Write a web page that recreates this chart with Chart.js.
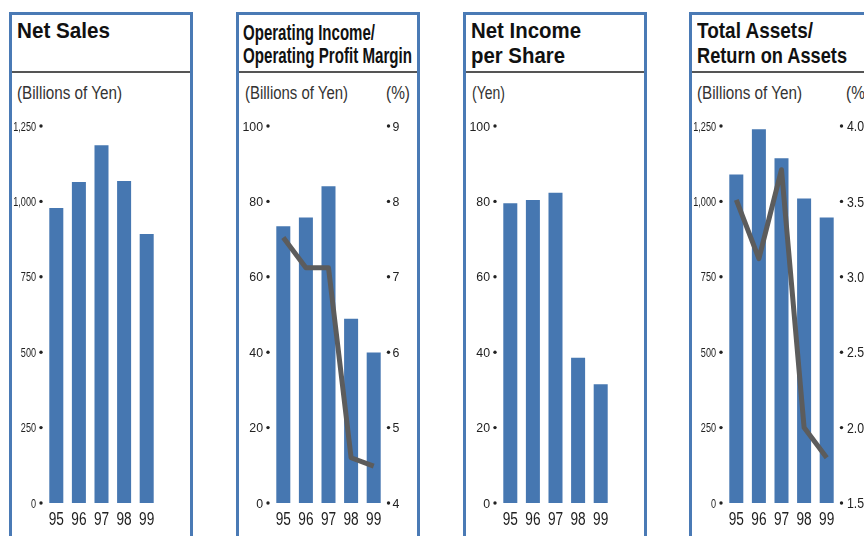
<!DOCTYPE html>
<html>
<head>
<meta charset="utf-8">
<script src="https://cdn.jsdelivr.net/npm/chart.js@4.4.0/dist/chart.umd.min.js"></script>
<style>
body { margin:0; width:864px; height:536px; overflow:hidden; background:#fff; position:relative;
       font-family:"Liberation Sans", Arial, sans-serif; color:#1a1a1a; }
.panel { position:absolute; top:12px; width:184px; height:600px; box-sizing:border-box;
         border:3px solid #4a7ab5; border-bottom:none; }
.rule { position:absolute; left:0; right:0; top:56px; border-top:2px solid #555; }
.t { position:absolute; white-space:nowrap; font-weight:bold; font-size:22px; line-height:25px;
     transform-origin:0 0; color:#111; }
.u { position:absolute; white-space:nowrap; font-size:18px; line-height:20px; top:68px; color:#333;
     transform-origin:0 0; }
canvas { position:absolute; top:110px; }
</style>
</head>
<body>
<div class="panel" style="left:9px">
  <div class="t" style="left:5px;top:3px" data-w="93">Net Sales</div>
  <div class="rule"></div>
  <div class="u" style="left:5px" data-w="105">(Billions of Yen)</div>
</div>
<div class="panel" style="left:236px">
  <div class="t" style="left:4px;top:5px" data-w="132">Operating Income/</div>
  <div class="t" style="left:4px;top:28px" data-w="169">Operating Profit Margin</div>
  <div class="rule"></div>
  <div class="u" style="left:6px" data-w="103">(Billions of Yen)</div>
  <div class="u" style="left:147px" data-w="24">(%)</div>
</div>
<div class="panel" style="left:463px">
  <div class="t" style="left:5px;top:3px" data-w="110">Net Income</div>
  <div class="t" style="left:5px;top:28px" data-w="94">per Share</div>
  <div class="rule"></div>
  <div class="u" style="left:6px" data-w="33">(Yen)</div>
</div>
<div class="panel" style="left:689px">
  <div class="t" style="left:5px;top:3px" data-w="116">Total Assets/</div>
  <div class="t" style="left:5px;top:28px" data-w="150">Return on Assets</div>
  <div class="rule"></div>
  <div class="u" style="left:5px" data-w="105">(Billions of Yen)</div>
  <div class="u" style="left:154px" data-w="24">(%)</div>
</div>

<canvas id="c1" width="184" height="426" style="left:9px"></canvas>
<canvas id="c2" width="184" height="426" style="left:236px"></canvas>
<canvas id="c3" width="184" height="426" style="left:463px"></canvas>
<canvas id="c4" width="184" height="426" style="left:689px"></canvas>

<script>
// fiscal years and values
const years = ['95', '96', '97', '98', '99'];
const netSales = [978, 1064, 1186, 1068, 892];
const opIncome = [73.4, 75.7, 84.0, 48.9, 39.9];
const opMargin = [7.52, 7.12, 7.12, 4.60, 4.49];
const eps = [79.5, 80.4, 82.3, 38.5, 31.5];
const totalAssets = [1089, 1239, 1143, 1010, 947];
const roa = [3.51, 3.12, 3.71, 2.00, 1.80];

// tick labels
const yenTicks = [0, 250, 500, 750, 1000, 1250];
const hundredTicks = [0, 20, 40, 60, 80, 100];
const marginTicks = [4, 5, 6, 7, 8, 9];
const roaTicks = [1.5, 2.0, 2.5, 3.0, 3.5, 4.0];

// squeeze the heading text to the widths seen in the original
document.querySelectorAll('[data-w]').forEach(function (el) {
    var w = el.getBoundingClientRect().width;
    el.style.transform = 'scaleX(' + (el.dataset.w / w) + ')';
});

const BAR = '#4677b1';
const LINE = '#5c5c5c';
const FONT = '"Liberation Sans", Arial, sans-serif';

function hiddenAxis(ticks, pos, width) {
    return {
        position: pos,
        min: ticks[0], max: ticks[ticks.length - 1],
        grid: { display: false, drawTicks: false },
        border: { display: false },
        afterBuildTicks: function (a) { a.ticks = ticks.map(function (v) { return { value: v }; }); },
        afterFit: function (a) { a.width = width; },
        ticks: { display: false }
    };
}

// condensed text, like the narrow face of the original
function squeezed(ctx, text, x, y, align, sx) {
    ctx.save();
    ctx.translate(x, y);
    ctx.scale(sx, 1);
    ctx.textAlign = align;
    ctx.fillText(text, 0, 0);
    ctx.restore();
}

function dot(ctx, x, y) {
    ctx.beginPath();
    ctx.arc(x, y, 1.7, 0, Math.PI * 2);
    ctx.fill();
}

function makeChart(id, bars, lticks, lstyle, line, rticks, rstyle) {
    var datasets = [{
        type: 'bar', data: bars, backgroundColor: BAR,
        barPercentage: 0.62, categoryPercentage: 1, yAxisID: 'y', order: 2
    }];
    var scales = {
        x: {
            offset: true,
            grid: { display: false, drawTicks: false },
            border: { display: false },
            afterFit: function (a) { a.height = 33; },
            ticks: { display: false }
        },
        y: hiddenAxis(lticks, 'left', 36)
    };
    if (line) {
        datasets.push({
            type: 'line', data: line, borderColor: LINE, borderWidth: 5,
            borderJoinStyle: 'round', pointRadius: 0, tension: 0,
            yAxisID: 'y1', order: 1, clip: false
        });
        scales.y1 = hiddenAxis(rticks, 'right', 35);
    }

    var axisLabels = {
        id: 'axisLabels',
        afterDraw: function (chart) {
            var ctx = chart.ctx, area = chart.chartArea;
            ctx.save();
            ctx.fillStyle = '#222';
            ctx.textBaseline = 'alphabetic';

            var y = chart.scales.y;
            ctx.font = lstyle.size + 'px ' + FONT;
            y.ticks.forEach(function (t) {
                var py = y.getPixelForValue(t.value);
                squeezed(ctx, lstyle.fmt(t.value), area.left - 9, py + lstyle.size * 0.36, 'right', lstyle.sx);
                dot(ctx, area.left - 4, py);
            });

            if (line) {
                var y1 = chart.scales.y1;
                ctx.font = rstyle.size + 'px ' + FONT;
                y1.ticks.forEach(function (t) {
                    var py = y1.getPixelForValue(t.value);
                    dot(ctx, area.right + 3.5, py);
                    squeezed(ctx, rstyle.fmt(t.value), area.right + rstyle.gap, py + rstyle.size * 0.36, 'left', rstyle.sx);
                });
            }

            var x = chart.scales.x;
            ctx.font = '18px ' + FONT;
            years.forEach(function (lab, i) {
                squeezed(ctx, lab, x.getPixelForTick(i), area.bottom + 21.5, 'center', 0.76);
            });
            ctx.restore();
        }
    };

    return new Chart(document.getElementById(id), {
        data: { labels: years, datasets: datasets },
        options: {
            responsive: false,
            animation: false,
            devicePixelRatio: 1,
            layout: { padding: { top: 16, right: line ? 0 : 35, left: 0, bottom: 0 } },
            plugins: { legend: { display: false }, tooltip: { enabled: false } },
            scales: scales
        },
        plugins: [axisLabels]
    });
}

const thousands = function (v) { return v.toLocaleString('en-US'); };
const plain = function (v) { return String(v); };
const oneDec = function (v) { return v.toFixed(1); };

const yenStyle = { size: 13, sx: 0.7, fmt: thousands };
const hundredStyle = { size: 13, sx: 0.95, fmt: plain };

makeChart('c1', netSales, yenTicks, yenStyle);
makeChart('c2', opIncome, hundredTicks, hundredStyle,
          opMargin, marginTicks, { size: 13, sx: 0.95, gap: 7.5, fmt: plain });
makeChart('c3', eps, hundredTicks, hundredStyle);
makeChart('c4', totalAssets, yenTicks, yenStyle,
          roa, roaTicks, { size: 14.5, sx: 0.85, gap: 9, fmt: oneDec });
</script>
</body>
</html>
